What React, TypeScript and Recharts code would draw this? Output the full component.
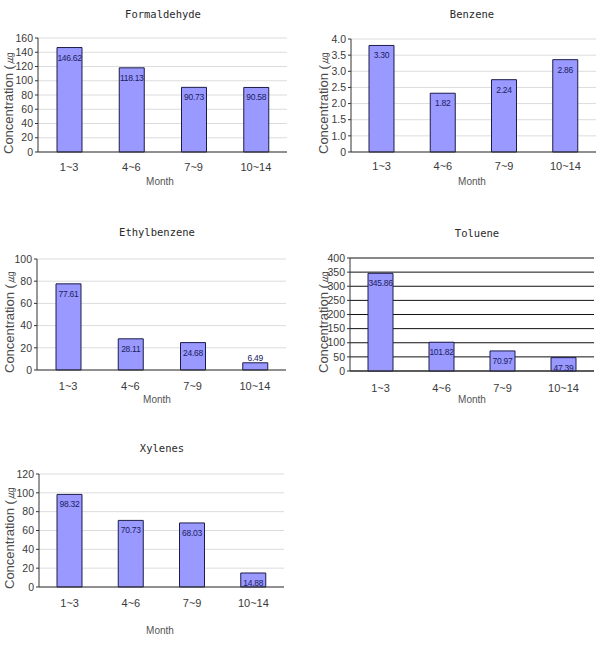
import React from 'react';
import { BarChart, Bar, XAxis, YAxis, CartesianGrid } from 'recharts';

// Sampling periods (months)
const months = ['1~3', '4~6', '7~9', '10~14'];

// Mean concentrations per period
const formaldehyde = [146.62, 118.13, 90.73, 90.58];
const benzene = [3.3, 1.82, 2.24, 2.86];
const ethylbenzene = [77.61, 28.11, 24.68, 6.49];
const toluene = [345.86, 101.82, 70.97, 47.39];
const xylenes = [98.32, 70.73, 68.03, 14.88];

// Y-axis ticks
const formaldehydeTicks = [0, 20, 40, 60, 80, 100, 120, 140, 160];
const benzeneTicks = [0, 0.5, 1, 1.5, 2, 2.5, 3, 3.5];
const benzeneTickLabels = ['0', '1.0', '1.5', '2.0', '2.5', '3.0', '3.5', '4.0'];
const ethylbenzeneTicks = [0, 20, 40, 60, 80, 100];
const tolueneTicks = [0, 50, 100, 150, 200, 250, 300, 350, 400];
const xylenesTicks = [0, 20, 40, 60, 80, 100, 120];

const Y_LABEL = 'Concentration (㎍';
const SANS = '"Liberation Sans", Arial, sans-serif';
const NARROW = '"Liberation Sans Narrow", "Liberation Sans", Arial, sans-serif';
const MONO = '"DejaVu Sans Mono", monospace';

type Rect = { l: number; t: number; r: number; b: number };
type Pt = { x: number; y: number };

interface PanelProps {
  title: string;
  values: number[];
  ticks: number[];
  tickLabels?: string[];
  box: { x: number; y: number; w: number; h: number };
  plot: Rect;
  titlePos: Pt;
  monthPos: Pt;
  yLabelPos: Pt;
  gridColor: string;
  xTickMargin: number;
}

const renderValue = (props: any) => {
  const { x, y, width, height, value } = props;
  const cx = Number(x) + Number(width) / 2;
  const cy = Number(height) > 12 ? Number(y) + 10 : Number(y) - 4.5;
  return (
    <text
      x={cx}
      y={cy}
      textAnchor="middle"
      dominantBaseline="central"
      fontSize={8.5}
      letterSpacing={-0.3}
      fontFamily={NARROW}
      fill="#20205e"
    >
      {Number(value).toFixed(2)}
    </text>
  );
};

const Panel = (p: PanelProps) => {
  const yAxisW = 30;
  const xAxisH = 30;
  const margin = {
    left: p.plot.l - p.box.x - yAxisW,
    top: p.plot.t - p.box.y,
    right: p.box.x + p.box.w - p.plot.r,
    bottom: p.box.y + p.box.h - p.plot.b - xAxisH,
  };
  const data = months.map((m, i) => ({ month: m, value: p.values[i] }));
  const max = p.ticks[p.ticks.length - 1];
  const fmt = (v: number) => {
    if (p.tickLabels) {
      const i = p.ticks.indexOf(v);
      return i >= 0 ? p.tickLabels[i] : String(v);
    }
    return String(v);
  };
  return (
    <>
      <div
        style={{
          position: 'absolute',
          left: p.titlePos.x - 80,
          top: p.titlePos.y - 8,
          width: 160,
          height: 16,
          lineHeight: '16px',
          textAlign: 'center',
          fontFamily: MONO,
          fontSize: 10.5,
          color: '#2a2a2a',
        }}
      >
        {p.title}
      </div>
      <div
        style={{
          position: 'absolute',
          left: p.monthPos.x - 40,
          top: p.monthPos.y - 7,
          width: 80,
          height: 14,
          lineHeight: '14px',
          textAlign: 'center',
          fontFamily: SANS,
          fontSize: 10,
          color: '#555',
        }}
      >
        Month
      </div>
      <div
        style={{
          position: 'absolute',
          left: p.yLabelPos.x,
          top: p.yLabelPos.y,
          transformOrigin: '0 0',
          transform: 'rotate(-90deg) translateY(-50%)',
          whiteSpace: 'nowrap',
          fontFamily: SANS,
          fontSize: 13,
          lineHeight: '15px',
          color: '#4a4a4a',
        }}
      >
        {Y_LABEL}
      </div>
      <div style={{ position: 'absolute', left: p.box.x, top: p.box.y }}>
        <BarChart width={p.box.w} height={p.box.h} data={data} margin={margin}>
          <CartesianGrid
            xAxisId="cat"
            yAxisId="v"
            vertical={false}
            stroke={p.gridColor}
            strokeWidth={1}
          />
          <XAxis
            xAxisId="bounds"
            type="number"
            domain={[0, 4]}
            ticks={[1, 2, 3, 4]}
            height={0}
            axisLine={false}
            mirror
            tickSize={3}
            tickLine={{ stroke: '#333' }}
            tick={() => <g />}
          />
          <XAxis
            xAxisId="cat"
            dataKey="month"
            height={xAxisH}
            tickLine={false}
            tickSize={0}
            tickMargin={p.xTickMargin}
            axisLine={{ stroke: '#333' }}
            tick={{ fontSize: 11, fontFamily: SANS, fill: '#3a3a3a' }}
          />
          <XAxis
            xAxisId="top"
            orientation="top"
            dataKey="month"
            height={0}
            tick={false}
            tickLine={false}
            axisLine={{ stroke: '#a8a8a8' }}
          />
          <YAxis
            yAxisId="v"
            width={yAxisW}
            domain={[0, max]}
            ticks={p.ticks}
            interval={0}
            tickFormatter={fmt}
            tickSize={3}
            tickMargin={2}
            axisLine={{ stroke: '#333' }}
            tickLine={{ stroke: '#333' }}
            tick={{ fontSize: 10.5, fontFamily: NARROW, fill: '#3a3a3a' }}
          />
          <YAxis
            yAxisId="right"
            orientation="right"
            width={0}
            domain={[0, max]}
            tick={false}
            tickLine={false}
            axisLine={{ stroke: '#a8a8a8' }}
          />
          <Bar
            xAxisId="cat"
            yAxisId="v"
            dataKey="value"
            barSize={25}
            fill="#9999ff"
            stroke="#1c1c4a"
            strokeWidth={1}
            isAnimationActive={false}
            label={renderValue}
          />
        </BarChart>
      </div>
    </>
  );
};

export default function App() {
  return (
    <div
      style={{
        position: 'absolute',
        left: 0,
        top: 0,
        width: 601,
        height: 648,
        background: '#fff',
        overflow: 'hidden',
      }}
    >
      <Panel
        title="Formaldehyde"
        values={formaldehyde}
        ticks={formaldehydeTicks}
        box={{ x: 0, y: 0, w: 300, h: 200 }}
        plot={{ l: 38, t: 38, r: 287, b: 152 }}
        titlePos={{ x: 163, y: 14 }}
        monthPos={{ x: 160, y: 182 }}
        yLabelPos={{ x: 7.5, y: 154 }}
        gridColor="#dcdcdc"
        xTickMargin={11}
      />
      <Panel
        title="Benzene"
        values={benzene}
        ticks={benzeneTicks}
        tickLabels={benzeneTickLabels}
        box={{ x: 300, y: 0, w: 301, h: 200 }}
        plot={{ l: 351, t: 39, r: 596, b: 152 }}
        titlePos={{ x: 472, y: 14 }}
        monthPos={{ x: 472, y: 182 }}
        yLabelPos={{ x: 323, y: 154 }}
        gridColor="#dcdcdc"
        xTickMargin={10}
      />
      <Panel
        title="Ethylbenzene"
        values={ethylbenzene}
        ticks={ethylbenzeneTicks}
        box={{ x: 0, y: 215, w: 300, h: 200 }}
        plot={{ l: 37, t: 259, r: 286, b: 370 }}
        titlePos={{ x: 157, y: 232 }}
        monthPos={{ x: 157, y: 400 }}
        yLabelPos={{ x: 9, y: 373 }}
        gridColor="#dcdcdc"
        xTickMargin={12}
      />
      <Panel
        title="Toluene"
        values={toluene}
        ticks={tolueneTicks}
        box={{ x: 300, y: 215, w: 301, h: 200 }}
        plot={{ l: 350, t: 258, r: 594, b: 371 }}
        titlePos={{ x: 477, y: 233 }}
        monthPos={{ x: 472, y: 400 }}
        yLabelPos={{ x: 323, y: 373 }}
        gridColor="#111"
        xTickMargin={13}
      />
      <Panel
        title="Xylenes"
        values={xylenes}
        ticks={xylenesTicks}
        box={{ x: 0, y: 430, w: 300, h: 200 }}
        plot={{ l: 39, t: 474, r: 284, b: 587 }}
        titlePos={{ x: 162, y: 448 }}
        monthPos={{ x: 160, y: 631 }}
        yLabelPos={{ x: 9, y: 589 }}
        gridColor="#dcdcdc"
        xTickMargin={12}
      />
    </div>
  );
}
